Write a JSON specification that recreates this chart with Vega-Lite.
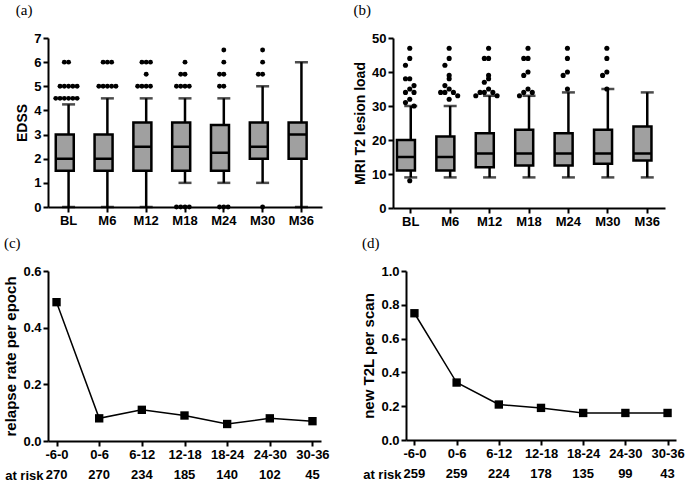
{
  "$schema": "https://vega.github.io/schema/vega-lite/v6.json",
  "padding": {"left": 3, "top": 3, "right": 5, "bottom": 1},
  "background": "white",
  "datasets": {
    "boxA": [
      {"t": "BL", "lo": 0, "q1": 1.5, "med": 2, "q3": 3, "hi": 4.25},
      {"t": "M6", "lo": 0, "q1": 1.5, "med": 2, "q3": 3, "hi": 4.5},
      {"t": "M12", "lo": 0, "q1": 1.5, "med": 2.5, "q3": 3.5, "hi": 4.5},
      {"t": "M18", "lo": 1, "q1": 1.5, "med": 2.5, "q3": 3.5, "hi": 4.5},
      {"t": "M24", "lo": 1, "q1": 1.5, "med": 2.25, "q3": 3.4, "hi": 4.5},
      {"t": "M30", "lo": 1, "q1": 2, "med": 2.5, "q3": 3.5, "hi": 5},
      {"t": "M36", "lo": 0, "q1": 2, "med": 3, "q3": 3.5, "hi": 6}
    ],
    "outA": [
      {"t": "BL", "v": 4.5}, {"t": "BL", "v": 4.5}, {"t": "BL", "v": 4.5}, {"t": "BL", "v": 4.5}, {"t": "BL", "v": 4.5}, {"t": "BL", "v": 4.5},
      {"t": "BL", "v": 5}, {"t": "BL", "v": 5}, {"t": "BL", "v": 5}, {"t": "BL", "v": 5}, {"t": "BL", "v": 5},
      {"t": "BL", "v": 6}, {"t": "BL", "v": 6},
      {"t": "M6", "v": 5}, {"t": "M6", "v": 5}, {"t": "M6", "v": 5}, {"t": "M6", "v": 5}, {"t": "M6", "v": 5},
      {"t": "M6", "v": 6}, {"t": "M6", "v": 6}, {"t": "M6", "v": 6},
      {"t": "M12", "v": 5}, {"t": "M12", "v": 5}, {"t": "M12", "v": 5}, {"t": "M12", "v": 5},
      {"t": "M12", "v": 5.5},
      {"t": "M12", "v": 6}, {"t": "M12", "v": 6}, {"t": "M12", "v": 6},
      {"t": "M18", "v": 0}, {"t": "M18", "v": 0}, {"t": "M18", "v": 0}, {"t": "M18", "v": 0},
      {"t": "M18", "v": 5}, {"t": "M18", "v": 5}, {"t": "M18", "v": 5}, {"t": "M18", "v": 5},
      {"t": "M18", "v": 5.5}, {"t": "M18", "v": 5.5},
      {"t": "M18", "v": 6},
      {"t": "M24", "v": 0}, {"t": "M24", "v": 0}, {"t": "M24", "v": 0},
      {"t": "M24", "v": 5}, {"t": "M24", "v": 5},
      {"t": "M24", "v": 5.5}, {"t": "M24", "v": 5.5},
      {"t": "M24", "v": 6},
      {"t": "M24", "v": 6.5},
      {"t": "M30", "v": 0},
      {"t": "M30", "v": 5.5}, {"t": "M30", "v": 5.5},
      {"t": "M30", "v": 6},
      {"t": "M30", "v": 6.5}
    ],
    "boxB": [
      {"t": "BL", "lo": 9, "q1": 11, "med": 15, "q3": 20, "hi": 30},
      {"t": "M6", "lo": 9, "q1": 11, "med": 15, "q3": 21, "hi": 30},
      {"t": "M12", "lo": 9, "q1": 12, "med": 16, "q3": 22, "hi": 33},
      {"t": "M18", "lo": 9, "q1": 12.5, "med": 16, "q3": 23, "hi": 33},
      {"t": "M24", "lo": 9, "q1": 12.5, "med": 16, "q3": 22, "hi": 34},
      {"t": "M30", "lo": 9, "q1": 13, "med": 16, "q3": 23, "hi": 35},
      {"t": "M36", "lo": 9, "q1": 14, "med": 16, "q3": 24, "hi": 34}
    ],
    "outB": [
      {"t": "BL", "v": 47}, {"t": "BL", "v": 44}, {"t": "BL", "v": 42}, {"t": "BL", "v": 38}, {"t": "BL", "v": 38}, {"t": "BL", "v": 36}, {"t": "BL", "v": 35}, {"t": "BL", "v": 34}, {"t": "BL", "v": 34}, {"t": "BL", "v": 32}, {"t": "BL", "v": 31}, {"t": "BL", "v": 30}, {"t": "BL", "v": 8},
      {"t": "M6", "v": 47}, {"t": "M6", "v": 44}, {"t": "M6", "v": 42}, {"t": "M6", "v": 39}, {"t": "M6", "v": 38}, {"t": "M6", "v": 36}, {"t": "M6", "v": 35}, {"t": "M6", "v": 34}, {"t": "M6", "v": 34}, {"t": "M6", "v": 34}, {"t": "M6", "v": 33}, {"t": "M6", "v": 32},
      {"t": "M12", "v": 47}, {"t": "M12", "v": 44}, {"t": "M12", "v": 44}, {"t": "M12", "v": 39}, {"t": "M12", "v": 38}, {"t": "M12", "v": 37}, {"t": "M12", "v": 35}, {"t": "M12", "v": 34}, {"t": "M12", "v": 34}, {"t": "M12", "v": 34}, {"t": "M12", "v": 33}, {"t": "M12", "v": 33},
      {"t": "M18", "v": 47}, {"t": "M18", "v": 44}, {"t": "M18", "v": 44}, {"t": "M18", "v": 40}, {"t": "M18", "v": 39}, {"t": "M18", "v": 35}, {"t": "M18", "v": 34}, {"t": "M18", "v": 34}, {"t": "M18", "v": 33},
      {"t": "M24", "v": 47}, {"t": "M24", "v": 44}, {"t": "M24", "v": 40}, {"t": "M24", "v": 39}, {"t": "M24", "v": 35},
      {"t": "M30", "v": 47}, {"t": "M30", "v": 44}, {"t": "M30", "v": 40}, {"t": "M30", "v": 39}, {"t": "M30", "v": 35}
    ],
    "relapse": [
      {"p": "-6-0", "r": 0.49, "n": "270"},
      {"p": "0-6", "r": 0.08, "n": "270"},
      {"p": "6-12", "r": 0.11, "n": "234"},
      {"p": "12-18", "r": 0.09, "n": "185"},
      {"p": "18-24", "r": 0.06, "n": "140"},
      {"p": "24-30", "r": 0.08, "n": "102"},
      {"p": "30-36", "r": 0.07, "n": "45"}
    ],
    "t2l": [
      {"p": "-6-0", "r": 0.75, "n": "259"},
      {"p": "0-6", "r": 0.34, "n": "259"},
      {"p": "6-12", "r": 0.21, "n": "224"},
      {"p": "12-18", "r": 0.19, "n": "178"},
      {"p": "18-24", "r": 0.16, "n": "135"},
      {"p": "24-30", "r": 0.16, "n": "99"},
      {"p": "30-36", "r": 0.16, "n": "43"}
    ]
  },
  "vconcat": [
    {
      "hconcat": [
        {
          "title": "(a)",
          "width": 274,
          "height": 169,
          "encoding": {
            "x": {"field": "t", "type": "nominal", "sort": ["BL", "M6", "M12", "M18", "M24", "M30", "M36"], "scale": {"paddingInner": 0.34, "paddingOuter": 0.2}, "axis": {"title": null, "labelAngle": 0}},
            "y": {"type": "quantitative", "scale": {"domain": [0, 7]}, "axis": {"title": "EDSS", "values": [0, 1, 2, 3, 4, 5, 6, 7], "labelOverlap": false}}
          },
          "layer": [
            {
              "data": {"name": "boxA"},
              "mark": {"type": "rule", "color": "black", "strokeWidth": 2.5},
              "encoding": {"y": {"field": "lo", "type": "quantitative"}, "y2": {"field": "hi"}}
            },
            {
              "data": {"name": "boxA"},
              "mark": {"type": "tick", "color": "black", "thickness": 2.5, "size": 13},
              "encoding": {"y": {"field": "lo", "type": "quantitative"}}
            },
            {
              "data": {"name": "boxA"},
              "mark": {"type": "tick", "color": "black", "thickness": 2.5, "size": 13},
              "encoding": {"y": {"field": "hi", "type": "quantitative"}}
            },
            {
              "data": {"name": "boxA"},
              "mark": {"type": "bar", "fill": "#a0a0a0", "stroke": "black", "strokeWidth": 2.5},
              "encoding": {"y": {"field": "q1", "type": "quantitative"}, "y2": {"field": "q3"}}
            },
            {
              "data": {"name": "boxA"},
              "mark": {"type": "bar", "fill": "black", "stroke": "black", "strokeWidth": 2.5},
              "encoding": {"y": {"field": "med", "type": "quantitative"}, "y2": {"field": "med"}}
            },
            {
              "data": {"name": "outA"},
              "transform": [
                {"window": [{"op": "row_number", "as": "k"}], "groupby": ["t", "v"]}
              ],
              "mark": {"type": "circle", "color": "black", "opacity": 1, "size": 24},
              "encoding": {
                "xOffset": {"field": "k", "type": "ordinal", "scale": {"type": "point", "domain": [6, 4, 2, 1, 3, 5, 7], "padding": 0}},
                "y": {"field": "v", "type": "quantitative"}
              }
            }
          ]
        },
        {
          "title": "(b)",
          "width": 272,
          "height": 170,
          "encoding": {
            "x": {"field": "t", "type": "nominal", "sort": ["BL", "M6", "M12", "M18", "M24", "M30", "M36"], "scale": {"paddingInner": 0.3, "paddingOuter": 0.1}, "axis": {"title": null, "labelAngle": 0}},
            "y": {"type": "quantitative", "scale": {"domain": [0, 50]}, "axis": {"title": "MRI T2 lesion load", "values": [0, 10, 20, 30, 40, 50], "labelOverlap": false}}
          },
          "layer": [
            {
              "data": {"name": "boxB"},
              "mark": {"type": "rule", "color": "black", "strokeWidth": 2.5},
              "encoding": {"y": {"field": "lo", "type": "quantitative"}, "y2": {"field": "hi"}}
            },
            {
              "data": {"name": "boxB"},
              "mark": {"type": "tick", "color": "black", "thickness": 2.5, "size": 13},
              "encoding": {"y": {"field": "lo", "type": "quantitative"}}
            },
            {
              "data": {"name": "boxB"},
              "mark": {"type": "tick", "color": "black", "thickness": 2.5, "size": 13},
              "encoding": {"y": {"field": "hi", "type": "quantitative"}}
            },
            {
              "data": {"name": "boxB"},
              "mark": {"type": "bar", "fill": "#a0a0a0", "stroke": "black", "strokeWidth": 2.5},
              "encoding": {"y": {"field": "q1", "type": "quantitative"}, "y2": {"field": "q3"}}
            },
            {
              "data": {"name": "boxB"},
              "mark": {"type": "bar", "fill": "black", "stroke": "black", "strokeWidth": 2.5},
              "encoding": {"y": {"field": "med", "type": "quantitative"}, "y2": {"field": "med"}}
            },
            {
              "data": {"name": "outB"},
              "transform": [
                {"bin": {"step": 3}, "field": "v", "as": "bv"},
                {"window": [{"op": "row_number", "as": "k"}], "groupby": ["t", "bv"]}
              ],
              "mark": {"type": "circle", "color": "black", "opacity": 1, "size": 26},
              "encoding": {
                "xOffset": {"field": "k", "type": "ordinal", "scale": {"type": "point", "domain": [6, 4, 2, 1, 3, 5, 7], "padding": 0}},
                "y": {"field": "v", "type": "quantitative"}
              }
            }
          ]
        }
      ],
      "spacing": 31
    },
    {
      "hconcat": [
        {
          "vconcat": [
            {
              "title": "(c)",
              "width": 273,
              "height": 170,
              "data": {"name": "relapse"},
              "mark": {"type": "line", "color": "black", "strokeWidth": 1.5, "point": {"shape": "square", "filled": true, "size": 70, "color": "black", "opacity": 1}},
              "encoding": {
                "x": {"field": "p", "type": "nominal", "sort": null, "scale": {"type": "point", "padding": 0.2}, "axis": {"title": null, "labelAngle": 0}},
                "y": {"field": "r", "type": "quantitative", "scale": {"domain": [0, 0.6]}, "axis": {"title": "relapse rate per epoch", "titleFontSize": 15, "values": [0, 0.2, 0.4, 0.6], "format": ".1f"}}
              }
            },
            {
              "width": 273,
              "height": 14,
              "data": {"name": "relapse"},
              "mark": {"type": "text", "font": "Liberation Sans", "fontWeight": "bold", "fontSize": 13, "color": "black"},
              "encoding": {
                "x": {"field": "p", "type": "nominal", "sort": null, "scale": {"type": "point", "padding": 0.2}, "axis": null},
                "y": {"datum": "at risk", "type": "nominal", "axis": {"title": null, "domain": false, "ticks": false, "labelPadding": 5}},
                "text": {"field": "n", "type": "nominal"}
              }
            }
          ],
          "spacing": 7
        },
        {
          "vconcat": [
            {
              "title": "(d)",
              "width": 270,
              "height": 169,
              "data": {"name": "t2l"},
              "mark": {"type": "line", "color": "black", "strokeWidth": 1.5, "point": {"shape": "square", "filled": true, "size": 70, "color": "black", "opacity": 1}},
              "encoding": {
                "x": {"field": "p", "type": "nominal", "sort": null, "scale": {"type": "point", "padding": 0.2}, "axis": {"title": null, "labelAngle": 0}},
                "y": {"field": "r", "type": "quantitative", "scale": {"domain": [0, 1]}, "axis": {"title": "new T2L per scan", "titleFontSize": 15, "values": [0, 0.2, 0.4, 0.6, 0.8, 1.0], "format": ".1f"}}
              }
            },
            {
              "width": 270,
              "height": 14,
              "data": {"name": "t2l"},
              "mark": {"type": "text", "font": "Liberation Sans", "fontWeight": "bold", "fontSize": 13, "color": "black"},
              "encoding": {
                "x": {"field": "p", "type": "nominal", "sort": null, "scale": {"type": "point", "padding": 0.2}, "axis": null},
                "y": {"datum": "at risk", "type": "nominal", "axis": {"title": null, "domain": false, "ticks": false, "labelPadding": 5}},
                "text": {"field": "n", "type": "nominal"}
              }
            }
          ],
          "spacing": 7
        }
      ],
      "spacing": 31
    }
  ],
  "spacing": 8,
  "config": {
    "view": {"stroke": null},
    "axis": {
      "grid": false,
      "domainColor": "black",
      "domainWidth": 2,
      "tickColor": "black",
      "tickWidth": 2,
      "tickSize": 5,
      "labelFont": "Liberation Sans",
      "labelFontWeight": "bold",
      "labelFontSize": 13,
      "labelColor": "black",
      "titleFont": "Liberation Sans",
      "titleFontWeight": "bold",
      "titleFontSize": 14,
      "titleColor": "black"
    },
    "title": {"font": "Liberation Serif", "fontSize": 15, "fontWeight": "normal", "anchor": "start", "frame": "bounds", "color": "black", "offset": 14}
  }
}
